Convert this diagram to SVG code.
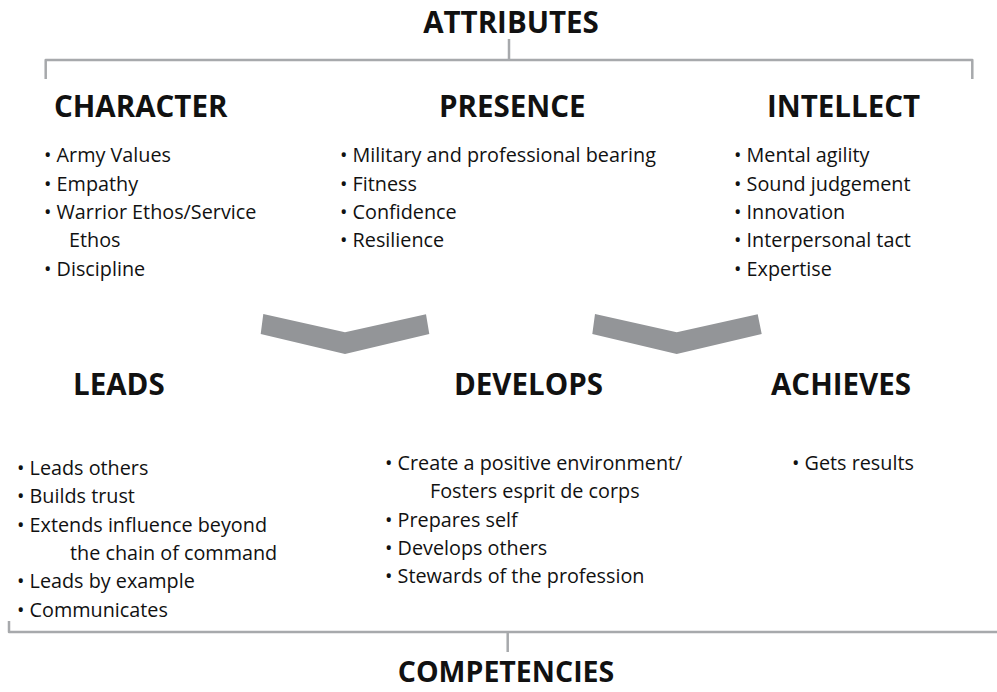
<svg xmlns="http://www.w3.org/2000/svg" width="997" height="692" viewBox="0 0 997 692">
<style>
.h{font-family:"Open Sans","Liberation Sans",sans-serif;font-weight:700;font-size:29.5px;fill:#111}
.b{font-family:"Open Sans","Liberation Sans",sans-serif;font-size:19.8px;fill:#111}
.ln{fill:none;stroke:#a7a9ac;stroke-width:2.5;stroke-linejoin:round}
.chev{fill:#939598}
</style>
<rect width="997" height="692" fill="#fff"/>
<g id="connectors">
<path class="ln" d="M45.7,79 V60 H972.3 V79"/>
<path class="ln" d="M509,39 V60"/>
<path class="ln" d="M9,621 V632 H997"/>
<path class="ln" d="M507.7,632 V652"/>
<polygon class="chev" points="260.7,334 263.3,314 345,332.3 426,314.3 429.3,334 345,354"/>
<polygon class="chev" points="592.3,334 595,314 676.7,332.3 757.7,314.3 761.7,334 676.7,354"/>
</g>
<g id="attributes"><text class="h" x="511" y="33" text-anchor="middle">ATTRIBUTES</text></g>
<g id="character">
<text class="h" x="54" y="117">CHARACTER</text>
<text class="b" x="44" y="162.3">• Army Values</text>
<text class="b" x="44" y="190.6">• Empathy</text>
<text class="b" x="44" y="218.9">• Warrior Ethos/Service</text>
<text class="b" x="69" y="247.2">Ethos</text>
<text class="b" x="44" y="275.5">• Discipline</text>
</g>
<g id="presence">
<text class="h" x="439" y="117">PRESENCE</text>
<text class="b" x="340" y="162.3">• Military and professional bearing</text>
<text class="b" x="340" y="190.6">• Fitness</text>
<text class="b" x="340" y="218.9">• Confidence</text>
<text class="b" x="340" y="247.2">• Resilience</text>
</g>
<g id="intellect">
<text class="h" x="767" y="117">INTELLECT</text>
<text class="b" x="734" y="162.3">• Mental agility</text>
<text class="b" x="734" y="190.6">• Sound judgement</text>
<text class="b" x="734" y="218.9">• Innovation</text>
<text class="b" x="734" y="247.2">• Interpersonal tact</text>
<text class="b" x="734" y="275.5">• Expertise</text>
</g>
<g id="leads">
<text class="h" x="73" y="395">LEADS</text>
<text class="b" x="17" y="475">• Leads others</text>
<text class="b" x="17" y="503.3">• Builds trust</text>
<text class="b" x="17" y="531.6">• Extends influence beyond</text>
<text class="b" x="70" y="559.9">the chain of command</text>
<text class="b" x="17" y="588.2">• Leads by example</text>
<text class="b" x="17" y="616.5">• Communicates</text>
</g>
<g id="develops">
<text class="h" x="454" y="395">DEVELOPS</text>
<text class="b" x="385" y="470">• Create a positive environment/</text>
<text class="b" x="430" y="498.3">Fosters esprit de corps</text>
<text class="b" x="385" y="526.6">• Prepares self</text>
<text class="b" x="385" y="554.9">• Develops others</text>
<text class="b" x="385" y="583.2">• Stewards of the profession</text>
</g>
<g id="achieves">
<text class="h" x="771" y="395">ACHIEVES</text>
<text class="b" x="792" y="470">• Gets results</text>
</g>
<g id="competencies"><text class="h" x="506" y="682" text-anchor="middle" style="font-size:28.5px">COMPETENCIES</text></g>
</svg>
